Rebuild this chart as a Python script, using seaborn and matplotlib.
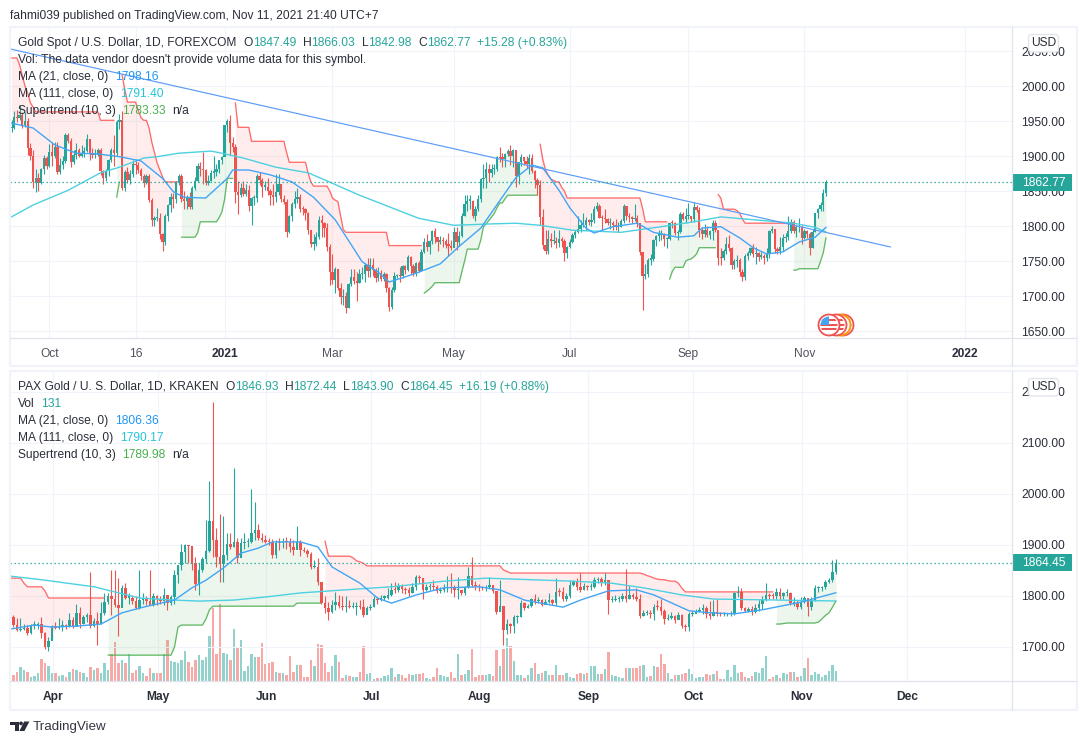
import numpy as np
import pandas as pd
import matplotlib
matplotlib.use("Agg")
import matplotlib.pyplot as plt
from matplotlib.patches import Circle, FancyBboxPatch, Polygon, Rectangle
import seaborn as sns

# ---------- Gold spot, daily, Sep 2020 -> Nov 2021 ----------
gold_close = [
    1940,1956,1954,1959,1945,1950,1912,1900,1863,1868,1862,1881,1897,1886,
    1906,1900,1913,1877,1887,1893,1930,1922,1892,1902,1908,1900,1905,1907,1924,1904,1902,1902,1908,1878,1868,1879,
    1894,1909,1904,1948,1951,1855,1877,1866,1874,1888,1887,1880,1871,1861,1871,1837,1808,1811,1812,1788,1777,
    1815,1830,1841,1839,1863,1872,1839,1836,1840,1827,1855,1864,1886,1881,1880,1862,1864,1876,1877,1882,1894,1898,
    1944,1950,1918,1913,1849,1844,1855,1846,1851,1828,1840,1840,1871,1866,1856,1856,1850,1844,1842,1848,
    1860,1838,1834,1791,1814,1831,1838,1842,1825,1824,1819,1795,1775,1775,1784,1808,1805,1797,1770,1734,
    1723,1738,1711,1698,1700,1683,1717,1727,1722,1719,1731,1731,1745,1736,1745,1737,1726,1733,1725,1732,1712,1685,1708,
    1728,1729,1728,1743,1737,1756,1743,1733,1747,1736,1763,1777,1770,1778,1793,1784,1777,1780,1778,1773,1772,1769,
    1792,1777,1786,1815,1831,1836,1836,1815,1824,1838,1867,1869,1881,1876,1881,1882,1899,1897,1896,1903,1907,
    1900,1908,1871,1891,1898,1893,1888,1897,1879,1866,1858,1813,1773,1764,1782,1778,1779,1776,1781,1778,1761,1770,
    1777,1787,1792,1796,1802,1802,1808,1806,1809,1824,1829,1812,1811,1810,1804,1805,1802,1798,1799,1807,1828,1814,
    1813,1810,1812,1804,1763,1729,1731,1752,1753,1780,1786,1787,1788,1781,1781,1805,1804,1790,1792,1817,1810,1814,
    1814,1810,1827,1823,1794,1788,1795,1787,1793,1805,1795,1755,1754,1764,1774,1769,1744,1750,1751,1734,1727,1757,
    1761,1769,1760,1761,1756,1757,1754,1760,1793,1796,1767,1765,1770,1783,1784,1793,1806,1793,1798,1799,1783,
    1793,1788,1769,1792,1818,1824,1830,1847.49,1862.77,
]
gold_high = [
    1952,1965,1966,1973,1963,1963,1955,1918,1908,1882,1876,1883,1901,1900,
    1917,1919,1920,1920,1897,1900,1933,1933,1926,1908,1918,1912,1916,1913,1931,1925,1912,1910,1911,1911,1880,1882,
    1896,1911,1930,1951,1960,1965,1880,1884,1880,1895,1895,1892,1883,1875,1874,1875,1840,1815,1826,1819,1790,
    1817,1832,1847,1847,1865,1875,1875,1850,1845,1848,1857,1870,1890,1891,1906,1882,1873,1880,1900,1889,1895,1900,
    1945,1953,1959,1927,1917,1865,1862,1864,1860,1859,1842,1845,1875,1877,1868,1864,1868,1853,1860,1875,
    1875,1860,1845,1838,1816,1835,1850,1855,1846,1829,1826,1820,1793,1789,1792,1815,1816,1806,1805,1775,
    1760,1741,1739,1718,1710,1706,1718,1739,1739,1734,1739,1741,1747,1755,1755,1755,1740,1741,1737,1735,1733,1713,1713,
    1734,1732,1742,1745,1745,1759,1757,1746,1748,1750,1767,1783,1789,1780,1794,1797,1782,1786,1785,1781,1790,1780,
    1798,1799,1793,1818,1845,1845,1844,1837,1829,1845,1869,1889,1892,1889,1889,1889,1900,1913,1905,1905,1910,
    1916,1910,1909,1892,1903,1899,1900,1903,1903,1880,1869,1866,1825,1795,1795,1790,1795,1784,1794,1785,1781,1771,
    1782,1790,1794,1815,1809,1818,1813,1810,1818,1829,1834,1831,1816,1825,1811,1812,1807,1810,1806,1810,1832,1829,
    1818,1815,1832,1816,1804,1745,1746,1755,1760,1782,1787,1795,1795,1790,1785,1805,1809,1806,1795,1820,1820,1826,
    1833,1815,1835,1830,1827,1799,1803,1800,1794,1809,1808,1795,1768,1767,1785,1787,1770,1753,1758,1755,1738,1760,
    1765,1770,1774,1770,1763,1763,1760,1768,1795,1800,1796,1770,1785,1788,1790,1814,1810,1808,1802,1812,1802,
    1796,1794,1792,1796,1818,1826,1834,1853,1866.03,
]
gold_low = [
    1934,1938,1948,1951,1940,1942,1902,1894,1855,1848,1850,1860,1875,1882,
    1885,1886,1897,1874,1874,1882,1890,1918,1885,1889,1896,1898,1898,1898,1906,1895,1897,1897,1900,1873,1860,1864,
    1871,1891,1886,1900,1938,1851,1850,1861,1860,1870,1875,1876,1866,1856,1860,1835,1800,1800,1807,1781,1765,
    1773,1807,1820,1826,1833,1858,1835,1825,1824,1825,1825,1851,1863,1871,1860,1859,1859,1864,1869,1871,1876,1888,
    1900,1934,1901,1906,1833,1817,1842,1843,1843,1822,1802,1830,1835,1858,1841,1852,1845,1830,1830,1835,
    1845,1835,1831,1785,1790,1807,1826,1833,1820,1816,1808,1788,1770,1766,1771,1782,1784,1784,1765,1716,
    1717,1705,1709,1688,1687,1676,1683,1714,1717,1693,1718,1725,1720,1727,1727,1728,1720,1722,1722,1722,1706,1678,1682,
    1706,1726,1720,1726,1731,1736,1731,1728,1729,1734,1737,1762,1764,1760,1774,1776,1764,1775,1770,1769,1757,1766,
    1770,1766,1772,1785,1814,1822,1825,1811,1807,1822,1835,1855,1855,1863,1870,1875,1879,1891,1885,1884,1900,
    1887,1885,1856,1860,1886,1887,1883,1875,1876,1855,1845,1802,1767,1760,1760,1770,1775,1769,1770,1770,1750,1755,
    1769,1776,1783,1790,1791,1798,1795,1802,1800,1804,1821,1811,1795,1805,1801,1796,1795,1794,1791,1798,1805,1808,
    1806,1805,1807,1798,1758,1680,1725,1727,1745,1750,1772,1778,1780,1772,1768,1780,1797,1787,1780,1790,1808,1805,
    1810,1806,1806,1820,1785,1782,1785,1785,1782,1780,1791,1745,1744,1752,1760,1765,1738,1739,1742,1729,1721,1723,
    1752,1759,1756,1746,1750,1753,1746,1750,1754,1790,1762,1760,1760,1764,1777,1780,1790,1790,1785,1791,1775,
    1782,1783,1759,1768,1792,1811,1822,1822,1842.98,
]
gold_ma21_idx = [0,8,16,24,32,40,48,56,60,64,72,80,82,88,96,104,112,120,123,130,136,140,145,151,159,166,174,181,187,193,197,203,207,213,216,223,232,238,247,253,256,263,270,275,280,286,292,298,302]
gold_ma21 = [1947,1940,1916,1904,1903,1899,1893,1868,1849,1841,1840,1868,1880,1880,1873,1863,1841,1809,1791,1749,1734,1720,1726,1734,1746,1771,1797,1836,1869,1887,1883,1851,1826,1797,1790,1799,1804,1791,1784,1786,1797,1799,1783,1769,1760,1763,1777,1784,1798.16]
gold_ma111_idx = [0,8,21,33,40,49,54,62,74,78,86,98,110,119,129,141,151,164,178,187,196,208,226,241,253,263,290,298,302]
gold_ma111 = [1813,1830,1851,1876,1884,1897,1899,1904,1907,1904,1897,1884,1876,1861,1844,1826,1811,1801,1803,1804,1801,1794,1791,1799,1806,1813,1804,1798,1791.4]
gold_st_vals = [2040,2030,2015,2000,1990,1976,1970,1963,1951,1841,1863,2016,1995,1977,1965,1955,1951,1940,1920,1905,1890,1880,1870,1863,
                1784,1790,1806,1812,1820,1838,1868,1976,1941,1921,1905,1891,1875,1863,1857,1850,1840,1837,1835,1815,1795,1791,1772,
                1704,1707,1710,1714,1719,1735,1750,1767,1780,1799,1803,1808,1813,1818,1826,1833,1839,1844,
                1917,1895,1880,1873,1867,1865,1863,1855,1850,1840,1825,1806,1724,1735,1741,1750,1752,1753,1756,1760,1769,
                1845,1840,1824,1822,1818,1810,1804,1737,1739,1750,1762,1783.33]
gold_st_runs = [3,1,1,1,1,1,1,24,6,1,1,1,1,4,1,1,2,1,1,1,1,1,1,6,
                6,1,7,1,1,1,3,1,5,13,1,7,1,1,6,1,1,1,1,1,1,16,13,
                1,1,1,1,10,1,1,5,1,1,1,1,1,1,1,2,1,12,
                1,1,1,1,1,1,2,1,1,28,1,9,1,1,4,1,1,1,1,1,7,
                1,1,5,1,1,1,18,2,8,1,1,1]
gold_flips = [39,41,63,83,153,196,244,262,290]
trend_idx = [-0.6,326]
trend_vals = [2053,1770]
gold_ticks = [14,46,79,119,164,207,251,294,353.6]
gold_tick_labels = ["Oct","16","2021","Mar","May","Jul","Sep","Nov","2022"]
gold_prices = [1650,1700,1750,1800,1850,1900,1950,2000,2050]

# ---------- PAX Gold, daily, Mar 2021 -> Nov 2021 ----------
pax_close = [
    1759,1743,1733,1735,1738,1727,1743,1744,1746,1727,1699,1712,1741,1738,1739,1743,1741,1752,1740,1767,
    1746,1759,1762,1741,1751,1746,1766,1789,1800,1795,1782,1776,1815,1797,1797,1791,1776,1792,1796,1790,
    1783,1800,1795,1790,1802,1787,1798,1842,1861,1887,1900,1898,1865,1823,1850,1872,1888,1947,1910,1877,
    1862,1881,1902,1897,1906,1874,1903,1905,1906,1923,1929,1914,1910,1906,1905,1880,1904,1903,1906,1905,
    1896,1890,1906,1890,1888,1882,1857,1857,1828,1787,1776,1769,1782,1788,1780,1779,1780,1779,1779,1781,
    1779,1763,1776,1778,1795,1793,1797,1797,1802,1812,1811,1820,1813,1812,1805,1818,1838,1835,1812,1818,
    1819,1818,1809,1811,1816,1817,1816,1811,1812,1806,1817,1839,1822,1820,1817,1815,1817,1821,1810,1769,
    1780,1733,1745,1742,1758,1758,1786,1776,1780,1795,1790,1792,1783,1788,1792,1786,1808,1807,1794,1800,
    1822,1827,1818,1812,1819,1817,1818,1831,1833,1826,1832,1792,1793,1795,1795,1800,1794,1802,1798,1794,
    1761,1766,1767,1765,1779,1778,1771,1755,1757,1760,1753,1763,1741,1739,1765,1765,1771,1773,1776,1765,
    1761,1768,1765,1764,1764,1764,1764,1805,1807,1776,1771,1775,1768,1776,1784,1793,1802,1800,1799,1807,
    1799,1805,1806,1786,1787,1779,1788,1797,1779,1792,1815,1815,1817,1828,1832,1846.93,1864.45,
]
pax_high = [
    1769,1762,1756,1756,1746,1744,1746,1750,1749,1759,1730,1720,1743,1749,1756,1753,1745,1766,1759,1785,
    1778,1762,1766,1848,1756,1769,1789,1805,1805,1851,1851,1835,1821,1825,1805,1802,1799,1851,1805,1799,
    1851,1805,1802,1799,1815,1802,1802,1851,1861,1901,1902,1900,1897,1877,1864,1877,1949,2025,2180,1933,
    1960,1957,1923,1923,2050,1913,1913,1923,1913,2010,1984,1942,1923,1919,1913,1911,1910,1913,1913,1916,
    1913,1910,1937,1910,1897,1893,1887,1870,1874,1825,1799,1789,1792,1808,1802,1799,1799,1792,1789,1789,
    1793,1795,1780,1785,1800,1798,1802,1802,1815,1825,1828,1826,1824,1818,1817,1826,1842,1842,1836,1824,
    1825,1832,1822,1818,1823,1840,1846,1822,1838,1812,1820,1856,1876,1830,1823,1820,1822,1837,1822,1810,
    1832,1780,1755,1747,1762,1762,1792,1788,1785,1797,1803,1798,1795,1795,1806,1795,1835,1815,1818,1806,
    1832,1832,1836,1845,1826,1822,1825,1838,1838,1838,1845,1830,1800,1801,1800,1806,1852,1820,1805,1815,
    1803,1772,1772,1772,1785,1792,1795,1775,1765,1768,1762,1768,1765,1745,1768,1770,1775,1778,1785,1780,
    1790,1793,1795,1768,1768,1767,1770,1808,1820,1815,1778,1778,1780,1785,1792,1800,1825,1805,1805,1815,
    1815,1808,1814,1808,1798,1793,1798,1800,1797,1798,1822,1820,1820,1832,1835,1870,1872.44,
]
pax_low = [
    1754,1740,1732,1732,1734,1723,1725,1736,1736,1717,1697,1693,1715,1735,1735,1732,1736,1740,1738,1746,
    1738,1746,1749,1738,1740,1704,1745,1762,1785,1762,1779,1721,1778,1795,1785,1785,1774,1774,1785,1782,
    1782,1780,1782,1785,1782,1772,1782,1785,1825,1851,1864,1864,1851,1812,1802,1848,1864,1887,1877,1857,
    1828,1828,1870,1893,1897,1864,1877,1893,1897,1903,1910,1910,1906,1903,1900,1874,1874,1890,1895,1893,
    1887,1880,1893,1878,1887,1877,1852,1854,1821,1785,1766,1753,1766,1772,1776,1772,1769,1776,1776,1763,
    1775,1758,1766,1772,1778,1785,1790,1792,1795,1800,1806,1808,1806,1803,1799,1805,1812,1825,1795,1810,
    1812,1812,1805,1805,1808,1808,1805,1798,1795,1802,1802,1815,1818,1812,1810,1811,1810,1814,1805,1765,
    1770,1703,1725,1727,1727,1748,1758,1772,1776,1778,1785,1786,1781,1784,1787,1783,1783,1800,1790,1790,
    1797,1820,1812,1808,1812,1812,1812,1815,1825,1820,1822,1765,1788,1790,1788,1790,1788,1795,1794,1790,
    1757,1760,1762,1756,1753,1773,1762,1746,1752,1755,1748,1755,1738,1731,1732,1760,1766,1768,1765,1757,
    1755,1760,1760,1760,1760,1760,1760,1762,1798,1772,1768,1768,1762,1766,1770,1775,1790,1795,1795,1795,
    1795,1795,1800,1782,1780,1775,1775,1787,1760,1772,1790,1808,1810,1814,1825,1828,1843.9,
]
pax_vol = [
    35,80,120,180,145,120,55,65,110,290,230,190,100,110,65,80,55,120,155,145,
    120,100,55,180,145,175,100,230,145,360,515,230,275,240,360,110,145,190,100,65,
    175,100,100,100,360,535,260,250,240,275,395,255,180,275,340,275,320,595,950,355,
    1005,370,355,275,680,450,535,130,190,350,310,310,495,225,230,245,120,100,100,80,
    330,120,210,210,55,55,275,190,485,470,230,120,190,340,255,35,80,65,55,55,
    120,460,90,100,25,35,35,70,80,170,55,90,80,35,90,80,90,90,100,35,
    25,55,165,80,65,55,120,45,355,80,90,145,420,55,80,80,80,90,70,405,
    195,420,560,460,260,80,80,35,80,165,230,90,100,130,80,80,205,80,80,110,
    48,35,90,100,90,100,195,190,90,90,155,380,80,65,48,35,165,165,165,175,
    190,210,48,65,190,180,355,225,100,25,80,80,90,100,155,90,35,48,48,90,
    80,90,130,20,20,150,55,210,100,120,48,44,65,120,110,175,330,25,55,80,
    35,110,90,120,120,48,65,165,305,80,120,90,55,80,130,210,131,
]
pax_ma21_idx = [0,7,12,19,26,32,38,47,52,56,61,66,71,75,83,88,92,100,105,109,116,124,134,140,147,158,163,171,179,184,194,200,207,215,226,236]
pax_ma21 = [1735,1743,1739,1741,1745,1767,1778,1792,1816,1831,1855,1884,1894,1906,1906,1896,1857,1825,1796,1786,1802,1816,1818,1812,1792,1778,1792,1810,1812,1802,1771,1767,1765,1773,1788,1806.36]
pax_ma111_idx = [0,10,24,37,47,54,64,73,83,100,109,124,136,161,172,181,192,201,236]
pax_ma111 = [1839,1831,1818,1796,1792,1790,1792,1798,1806,1814,1818,1829,1835,1829,1825,1816,1802,1794,1790.17]
pax_st_vals = [1835,1825,1818,1810,1796,1684,1700,1739,1743,1755,1773,1780,1786,
               1908,1878,1875,1869,1867,1864,1859,1851,1848,1845,1843,1840,1838,1835,1833,1832,1830,1829,1825,1815,1808,
               1745,1746,1747,1749,1755,1762,1767,1778,1789.98]
pax_st_runs = [4,1,5,1,17,19,1,1,7,1,1,24,8,
               1,7,1,1,1,1,39,1,1,38,1,1,1,1,1,2,1,2,1,1,26,
               2,1,9,1,1,1,1,1,1]
pax_flips = [28,90,219]
pax_ticks = [12.25,42.25,73.25,103.25,134.25,165.25,195.25,226.25,256.25]
pax_tick_labels = ["Apr","May","Jun","Jul","Aug","Sep","Oct","Nov","Dec"]
pax_prices = [1700,1800,1900,2000,2100,2200]

UP = "#26A69A"
DOWN = "#EF5350"
ST_RED = "#FF5252"
ST_GREEN = "#4CAF50"
MA21_COL = "#42A5F5"
MA111_COL = "#4DD0E1"
GRID = "#F0F3FA"
LINE = "#E0E3EB"
TXT = "#2A2E39"
W, H = 1086, 744


def ohlc(close, high, low):
    df = pd.DataFrame({"close": close, "high": high, "low": low})
    df["open"] = df["close"].shift(1).fillna(df["close"])
    df["i"] = np.arange(len(df))
    df["up"] = df["close"] >= df["open"]
    return df


def make_axes(top, bottom, zorder=2):
    return fig.add_axes([10 / W, 1 - bottom / H, 1002 / W, (bottom - top) / H], zorder=zorder)


def candles(ax, df, width):
    colors = np.where(df["up"], UP, DOWN)
    ax.vlines(df["i"], df["low"], df["high"], colors=colors, lw=0.8, zorder=3)
    body = (df["close"] - df["open"]).abs().clip(lower=2)
    ax.bar(df["i"], body, bottom=df[["open", "close"]].min(axis=1), width=width,
           color=colors, lw=0, zorder=3)


def supertrend(ax, df, vals, runs, flips):
    st = np.repeat(vals, runs)
    mid = ((df["open"] + df["close"]) / 2).values
    edges = [0] + flips + [len(df)]
    for k in range(len(edges) - 1):
        a, b = edges[k], edges[k + 1]
        col = ST_RED if k % 2 == 0 else ST_GREEN
        idx = np.arange(a, b)
        ax.fill_between(idx, st[a:b], mid[a:b], color=col, alpha=0.1, lw=0, zorder=1)
        sns.lineplot(x=idx, y=st[a:b], color=col, lw=0.95, alpha=0.85, ax=ax, legend=False, zorder=2.5)


def style_pane(ax, xlim, ylim, ticks, labels, prices, bold):
    ax.set_xlim(*xlim)
    ax.set_ylim(*ylim)
    ax.set_xticks(ticks)
    ax.set_xticklabels(labels)
    ax.set_yticks(prices)
    ax.set_yticklabels([f"{p:.2f}" for p in prices])
    ax.yaxis.tick_right()
    ax.tick_params(axis="x", length=0, pad=7, labelsize=8.64, labelcolor="#50535E")
    ax.tick_params(axis="y", length=0, pad=6.6, labelsize=8.64, labelcolor=TXT)
    for lab in ax.get_xticklabels():
        if lab.get_text() in bold:
            lab.set_fontweight("bold")
            lab.set_color(TXT)
    ax.grid(True, color=GRID, lw=0.8)
    ax.set_axisbelow(True)
    ax.set(xlabel="", ylabel="")
    for s in ax.spines.values():
        s.set_visible(False)
    ax.patch.set_visible(False)


sns.set_theme(style="white")
plt.rcParams["font.family"] = ["Liberation Sans", "DejaVu Sans"]
fig = plt.figure(figsize=(W / 100, H / 100), dpi=100, facecolor="white")

# ---------- Top pane ----------
gold = ohlc(gold_close, gold_high, gold_low)
ax1 = make_axes(28, 338)
step1 = 2.697
last1 = len(gold) - 1
candles(ax1, gold, 0.85)
supertrend(ax1, gold, gold_st_vals, gold_st_runs, gold_flips)
sns.lineplot(x=gold_ma111_idx, y=gold_ma111, color=MA111_COL, lw=1.0, ax=ax1, legend=False, zorder=4)
sns.lineplot(x=gold_ma21_idx, y=gold_ma21, color=MA21_COL, lw=1.0, ax=ax1, legend=False, zorder=4)
sns.lineplot(x=trend_idx, y=trend_vals, color="#5B9CF6", lw=0.85, ax=ax1, legend=False, zorder=4)
ax1.axhline(gold_close[-1], color=UP, lw=0.9, ls=(0, (1.1, 2.1)), zorder=4)
style_pane(ax1, ((10 - 826) / step1 + last1, (1012 - 826) / step1 + last1),
           (1640, 2082.86), gold_ticks, gold_tick_labels, gold_prices, ["2021", "2022"])

# ---------- Bottom pane ----------
pax = ohlc(pax_close, pax_high, pax_low)
pax["vol"] = pax_vol
pax_xlim = (0, 286.3)
axv = make_axes(372, 681, zorder=1)
sns.barplot(data=pax, x="i", y="vol", hue="up", palette={True: "#92D2CC", False: "#F7A9A7"},
            native_scale=True, dodge=False, width=0.65, saturation=1, errorbar=None,
            legend=False, linewidth=0, ax=axv)
axv.set_xlim(*pax_xlim)
axv.set_ylim(0, 4048)
axv.axis("off")

ax2 = make_axes(372, 681)
candles(ax2, pax, 0.75)
supertrend(ax2, pax, pax_st_vals, pax_st_runs, pax_flips)
sns.lineplot(x=pax_ma111_idx, y=pax_ma111, color=MA111_COL, lw=1.0, ax=ax2, legend=False, zorder=4)
sns.lineplot(x=pax_ma21_idx, y=pax_ma21, color=MA21_COL, lw=1.0, ax=ax2, legend=False, zorder=4)
ax2.axhline(pax_close[-1], color=UP, lw=0.9, ls=(0, (1.1, 2.1)), zorder=4)
style_pane(ax2, pax_xlim, (1633.3, 2239.2), pax_ticks, pax_tick_labels, pax_prices, pax_tick_labels)

# ---------- Overlay in pixel coordinates: frames, legends, tags ----------
ov = fig.add_axes([0, 0, 1, 1], zorder=5)
ov.set_xlim(0, W)
ov.set_ylim(H, 0)
ov.axis("off")
ov.patch.set_visible(False)


def label(x, y, s, color=TXT, size=8.64, **kw):
    ov.text(x, y + 0.8, s, color=color, fontsize=size, va="center", ha=kw.pop("ha", "left"), **kw)


for y0, y1, ysep in [(27, 366, 338), (371, 709.5, 681)]:
    ov.add_patch(Rectangle((10, y0), 1066.5, y1 - y0, fill=False, ec=GRID, lw=1.6))
    ov.plot([10, 1076], [ysep, ysep], color=LINE, lw=0.9)
    ov.plot([1012, 1012], [y0, y1], color=LINE, lw=0.9)

label(10, 15, "fahmi039 published on TradingView.com, Nov 11, 2021 21:40 UTC+7")


def ohlc_legend(y, name, xs, vals, chg):
    label(18, y, name)
    for letter, lx, v, vx in zip("OHLC", xs[0], vals, xs[1]):
        label(lx, y, letter)
        label(vx, y, v, color=UP)
    label(xs[2], y, chg, color=UP)


ohlc_legend(42, "Gold Spot / U.S. Dollar, 1D, FOREXCOM",
            ([243, 303, 362, 418], [253, 311, 368, 427], 477),
            ["1847.49", "1866.03", "1842.98", "1862.77"], "+15.28 (+0.83%)")
label(18, 59, "Vol: The data vendor doesn't provide volume data for this symbol.")
ohlc_legend(386, "PAX Gold / U. S. Dollar, 1D, KRAKEN",
            ([225, 285, 343, 400], [235, 293, 350, 409], 459),
            ["1846.93", "1872.44", "1843.90", "1864.45"], "+16.19 (+0.88%)")
label(18, 403, "Vol")
label(41, 403, "131", color=UP)

for y0, m21, m111, st in [(76, "1798.16", "1791.40", "1783.33"), (420, "1806.36", "1790.17", "1789.98")]:
    label(18, y0, "MA (21, close, 0)")
    label(115, y0, m21, color="#2196F3")
    label(18, y0 + 17, "MA (111, close, 0)")
    label(120, y0 + 17, m111, color="#26C6DA")
    label(18, y0 + 34, "Supertrend (10, 3)")
    label(122, y0 + 34, st, color=ST_GREEN)
    label(172, y0 + 34, "n/a")

for y0, y1, txt in [(174, 191, "1862.77"), (554, 571, "1864.45")]:
    ov.add_patch(Rectangle((1012, y0), 60, y1 - y0, color=UP, lw=0))
    label(1022, (y0 + y1) / 2 - 0.8, txt, color="white")
for y0 in [34, 378]:
    ov.add_patch(FancyBboxPatch((1028.5, y0 + 0.5), 30, 17.5, boxstyle="round,pad=0,rounding_size=3",
                                fc="white", ec=LINE, lw=0.9, zorder=3))
    label(1044, y0 + 8.5, "USD", ha="center", zorder=4)


def flag(cx, cy, r=10.5, ring="#EF5350", z=3):
    disc = Circle((cx, cy), r, fc="white", ec=ring, lw=1.3, zorder=z)
    ov.add_patch(disc)
    for yy in (-6, -1.5, 3):
        stripe = Rectangle((cx - r, cy + yy), 2 * r, 2.2, fc="#EF5350", lw=0, zorder=z)
        ov.add_patch(stripe)
        stripe.set_clip_path(Circle((cx, cy), r - 2, transform=ov.transData))
    canton = Rectangle((cx - r, cy - r), r, r - 0.5, fc="#42A5F5", lw=0, zorder=z)
    ov.add_patch(canton)
    canton.set_clip_path(Circle((cx, cy), r - 2, transform=ov.transData))


flag(843, 325, z=3.0)
ov.add_patch(Circle((840, 325), 10.5, fc="white", ec="#FF9800", lw=1.3, zorder=3.1))
flag(836, 325, z=3.2)
flag(829, 325, z=3.4)

# logo
ov.add_patch(Polygon([(10, 721.5), (18.5, 721.5), (18.5, 731), (14.5, 731), (14.5, 725.3), (10, 725.3)], fc=TXT, lw=0))
ov.add_patch(Circle((21, 723.4), 1.9, fc=TXT, lw=0))
ov.add_patch(Polygon([(24.2, 721.5), (29.4, 721.5), (24.4, 731), (19.4, 731)], fc=TXT, lw=0))
label(33, 726, "TradingView", size=9.6, color="#333640")

fig.savefig("out.png", dpi=100)
